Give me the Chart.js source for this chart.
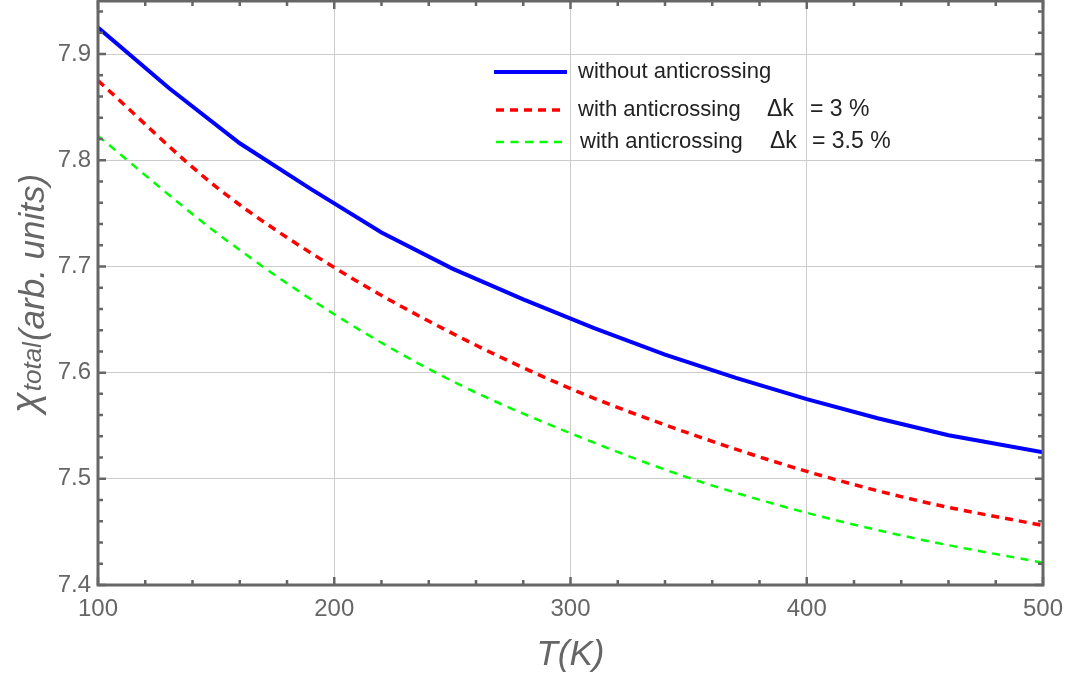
<!DOCTYPE html>
<html>
<head>
<meta charset="utf-8">
<script src="https://cdn.jsdelivr.net/npm/chart.js@4"></script>
<style>
  html, body { margin: 0; padding: 0; background: #fff; }
  #wrap { width: 1074px; height: 676px; }
</style>
</head>
<body>
<div id="wrap"><canvas id="chiChart" width="1074" height="676"></canvas></div>
<script>
// susceptibility vs temperature
const tSolid = [100, 130, 160, 190, 220, 250, 280, 310, 340, 370, 400, 430, 460, 500];
const chiNoAnti = [7.925, 7.868, 7.816, 7.773, 7.732, 7.698, 7.669, 7.642, 7.617, 7.595, 7.575, 7.557, 7.541, 7.525];
const tDashed = [100, 150, 200, 250, 300, 350, 400, 450, 500];
const chiAnti3 = [7.875, 7.775, 7.699, 7.637, 7.585, 7.543, 7.507, 7.478, 7.456];
const chiAnti35 = [7.823, 7.732, 7.655, 7.592, 7.543, 7.501, 7.468, 7.442, 7.421];
const seriesLabels = ['without anticrossing', 'with anticrossing Δk = 3 %', 'with anticrossing Δk = 3.5 %'];
const xTicks = [100, 200, 300, 400, 500];
const yTicks = [7.4, 7.5, 7.6, 7.7, 7.8, 7.9];

const FONT = '"Liberation Sans", Arial, sans-serif';
const AXIS_GRAY = '#666666';

function pts(xs, ys) {
    return xs.map((x, i) => ({ x: x, y: ys[i] }));
}

// frame + inward ticks on all four sides (Mathematica style)
const framePlugin = {
    id: 'frame',
    afterDatasetsDraw(chart) {
        const { ctx, chartArea: a, scales } = chart;
        const xs = scales.x, ys = scales.y;
        ctx.save();
        ctx.strokeStyle = AXIS_GRAY;
        ctx.lineWidth = 2.5;
        ctx.beginPath();
        for (let v = 100; v <= 500; v += 20) {
            const px = xs.getPixelForValue(v);
            const len = v % 100 === 0 ? 8 : 5;
            ctx.moveTo(px, a.bottom); ctx.lineTo(px, a.bottom - len);
            ctx.moveTo(px, a.top); ctx.lineTo(px, a.top + len);
        }
        for (let i = 0; i <= 27; i++) {
            const v = 7.4 + i * 0.02;
            const py = ys.getPixelForValue(v);
            const len = i % 5 === 0 ? 8 : 5;
            ctx.moveTo(a.left, py); ctx.lineTo(a.left + len, py);
            ctx.moveTo(a.right, py); ctx.lineTo(a.right - len, py);
        }
        ctx.stroke();
        ctx.lineWidth = 3;
        ctx.strokeRect(a.left, a.top, a.right - a.left, a.bottom - a.top);
        ctx.restore();
    }
};

// axis titles: T(K) and chi_total(arb. units)
const titlePlugin = {
    id: 'axisTitles',
    afterDraw(chart) {
        const { ctx, chartArea: a } = chart;
        ctx.save();
        ctx.fillStyle = AXIS_GRAY;
        ctx.textBaseline = 'alphabetic';
        ctx.textAlign = 'center';
        ctx.font = 'italic 35px ' + FONT;
        ctx.fillText('T(K)', (a.left + a.right) / 2, 665);

        ctx.translate(41, 413);
        ctx.rotate(-Math.PI / 2);
        ctx.textAlign = 'left';
        let x = 0;
        ctx.font = 'italic 38px ' + FONT;
        ctx.fillText('χ', x, -3);
        x += ctx.measureText('χ').width + 1;
        ctx.font = 'italic 26px ' + FONT;
        ctx.fillText('total', x, 0);
        x += ctx.measureText('total').width + 1;
        ctx.font = 'italic 35px ' + FONT;
        ctx.fillText('(arb. units)', x, 3);
        ctx.restore();
    }
};

// legend inside the plot, upper right
const legendPlugin = {
    id: 'insideLegend',
    afterDraw(chart) {
        const { ctx } = chart;
        const rows = [
            { y: 72, x0: 494, x1: 567, tx: 578, dk: 767, eq: 810 },
            { y: 110, x0: 496, x1: 563, tx: 578, dk: 767, eq: 810 },
            { y: 142, x0: 496, x1: 563, tx: 580, dk: 770, eq: 812 }
        ];
        ctx.save();
        chart.data.datasets.forEach((ds, i) => {
            const r = rows[i];
            ctx.strokeStyle = ds.borderColor;
            ctx.lineWidth = ds.borderWidth;
            ctx.setLineDash(ds.borderDash || []);
            ctx.beginPath();
            ctx.moveTo(r.x0, r.y);
            ctx.lineTo(r.x1, r.y);
            ctx.stroke();
            ctx.setLineDash([]);

            ctx.fillStyle = '#222222';
            ctx.font = '22px ' + FONT;
            ctx.textBaseline = 'middle';
            ctx.textAlign = 'left';
            const parts = ds.label.split('Δk');
            ctx.fillText(parts[0].trim(), r.tx, r.y);
            if (parts.length > 1) {
                ctx.font = '23px ' + FONT;
                ctx.fillText('Δk', r.dk, r.y);
                ctx.fillText(parts[1].trim(), r.eq, r.y);
            }
        });
        ctx.restore();
    }
};

const ctx = document.getElementById('chiChart').getContext('2d');
new Chart(ctx, {
    type: 'line',
    data: {
        datasets: [
            {
                label: seriesLabels[0],
                data: pts(tSolid, chiNoAnti),
                borderColor: '#0000ff',
                borderWidth: 4,
                tension: 0,
                pointRadius: 0
            },
            {
                label: seriesLabels[1],
                data: pts(tDashed, chiAnti3),
                borderColor: '#ff0000',
                borderWidth: 3.5,
                borderDash: [8, 6],
                cubicInterpolationMode: 'monotone',
                pointRadius: 0
            },
            {
                label: seriesLabels[2],
                data: pts(tDashed, chiAnti35),
                borderColor: '#00ff00',
                borderWidth: 2.5,
                borderDash: [8, 6.5],
                cubicInterpolationMode: 'monotone',
                pointRadius: 0
            }
        ]
    },
    options: {
        responsive: false,
        animation: false,
        layout: { padding: { top: 1, right: 31, left: 0, bottom: 0 } },
        plugins: {
            legend: { display: false },
            tooltip: { enabled: false }
        },
        scales: {
            x: {
                type: 'linear',
                min: 100,
                max: 500,
                afterBuildTicks: s => { s.ticks = xTicks.map(v => ({ value: v })); },
                afterFit: s => { s.height = 91; s.paddingLeft = 0; s.paddingRight = 0; },
                grid: { color: '#cccccc', lineWidth: 1, drawTicks: false },
                border: { display: false },
                ticks: {
                    padding: 10,
                    color: AXIS_GRAY,
                    font: { family: FONT, size: 24 },
                    maxRotation: 0,
                    callback: v => String(v)
                }
            },
            y: {
                type: 'linear',
                min: 7.4,
                max: 7.95,
                afterBuildTicks: s => { s.ticks = yTicks.map(v => ({ value: v })); },
                afterFit: s => { s.width = 98; s.paddingTop = 0; s.paddingBottom = 0; },
                grid: { color: '#cccccc', lineWidth: 1, drawTicks: false },
                border: { display: false },
                ticks: {
                    padding: 7,
                    color: AXIS_GRAY,
                    font: { family: FONT, size: 24 },
                    callback: v => v.toFixed(1)
                }
            }
        }
    },
    plugins: [framePlugin, titlePlugin, legendPlugin]
});
</script>
</body>
</html>
